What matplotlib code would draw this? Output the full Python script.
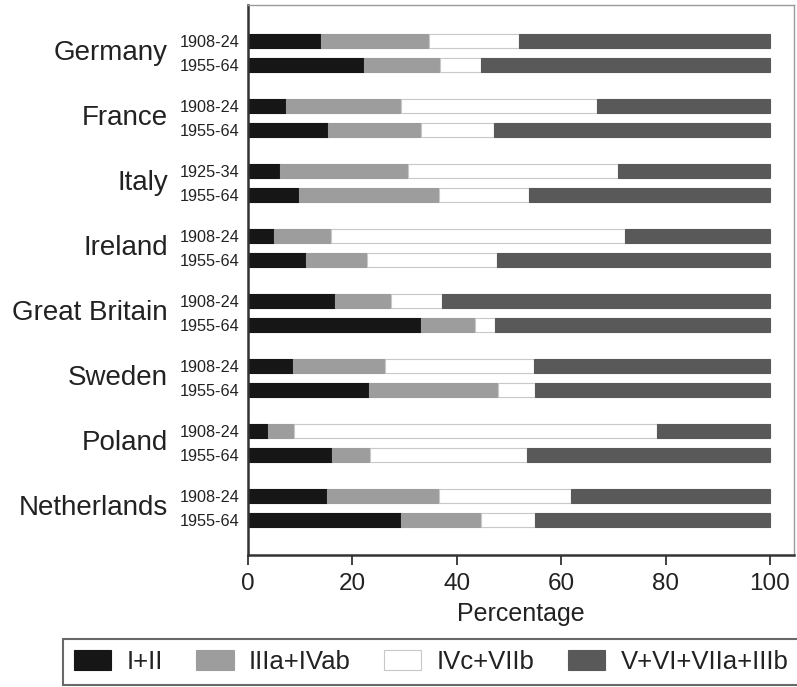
import numpy as np
import matplotlib
matplotlib.use("Agg")
import matplotlib.pyplot as plt
from matplotlib.patches import Patch

countries = ["Germany", "France", "Italy", "Ireland", "Great Britain",
             "Sweden", "Poland", "Netherlands"]
early_periods = ["1908-24", "1908-24", "1925-34", "1908-24", "1908-24",
                 "1908-24", "1908-24", "1908-24"]
late_period = "1955-64"

classes = ["I+II", "IIIa+IVab", "IVc+VIIb", "V+VI+VIIa+IIIb"]
colors = ["#161616", "#9d9d9d", "#ffffff", "#595959"]

# class shares (%) for the early cohort, one list per class
early_i_ii = [13.9, 7.3, 6.2, 5.0, 16.7, 8.6, 3.9, 15.1]
early_iii_iv = [20.7, 22.1, 24.5, 10.9, 10.6, 17.6, 5.0, 21.4]
early_ivc_vii = [17.4, 37.5, 40.2, 56.3, 9.8, 28.5, 69.5, 25.3]
early_v_vi = [48.0, 33.1, 29.1, 27.8, 62.9, 45.3, 21.6, 38.2]

# class shares (%) for the 1955-64 cohort
late_i_ii = [22.2, 15.3, 9.7, 11.2, 33.1, 23.1, 16.1, 29.4]
late_iii_iv = [14.6, 17.9, 26.8, 11.6, 10.3, 24.8, 7.3, 15.3]
late_ivc_vii = [7.8, 13.9, 17.3, 24.9, 4.0, 7.1, 30.1, 10.2]
late_v_vi = [55.4, 52.9, 46.2, 52.3, 52.6, 45.0, 46.5, 45.1]


def draw_stack(ax, ypos, shares):
    left = np.zeros(len(ypos))
    for vals, color in zip(shares, colors):
        edge = "#c8c8c8" if color == "#ffffff" else color
        ax.barh(ypos, vals, left=left, height=0.215, color=color,
                edgecolor=edge, linewidth=0.8)
        left = left + np.array(vals)


def main() -> None:
    plt.rcParams["font.family"] = ["Liberation Sans", "DejaVu Sans"]
    fig = plt.figure(figsize=(7.97, 6.87), dpi=100)
    W, H = 797, 687
    ax = fig.add_axes([248 / W, 1 - 555 / H, (794 - 248) / W, (555 - 5) / H])

    n = len(countries)
    y_early = np.arange(n, dtype=float)
    y_late = y_early + 0.37

    draw_stack(ax, y_early, [early_i_ii, early_iii_iv, early_ivc_vii, early_v_vi])
    draw_stack(ax, y_late, [late_i_ii, late_iii_iv, late_ivc_vii, late_v_vi])

    ax.set_xlim(0, 104.6)
    ax.set_ylim(n - 1 + 0.37 + 0.54, -0.55)

    ax.set_xticks([0, 20, 40, 60, 80, 100])
    ax.tick_params(axis="x", direction="out", length=7, width=1.3,
                   labelsize=17.5, colors="#333333", labelcolor="#222222", pad=6)
    ax.set_xlabel("Percentage", fontsize=18, color="#222222", labelpad=5)

    yt = np.concatenate([y_early, y_late])
    yl = early_periods + [late_period] * n
    ax.set_yticks(yt)
    ax.set_yticklabels(yl, fontsize=11.7, color="#222222")
    ax.tick_params(axis="y", length=0, pad=6)

    for y, name in zip(y_early + 0.185, countries):
        ax.annotate(name, xy=(0, y), xycoords=("axes fraction", "data"),
                    xytext=(-80, 0), textcoords="offset pixels",
                    ha="right", va="center", fontsize=20, color="#222222")

    for side in ("left", "bottom"):
        ax.spines[side].set_color("#333333")
        ax.spines[side].set_linewidth(1.8)
    for side in ("top", "right"):
        ax.spines[side].set_color("#9a9a9a")
        ax.spines[side].set_linewidth(1.0)

    handles = [Patch(facecolor=c, edgecolor="#c8c8c8" if c == "#ffffff" else c,
                     linewidth=0.8) for c in colors]
    leg = fig.legend(handles, classes, loc="upper left",
                     bbox_to_anchor=(63 / W, 1 - 639 / H), ncol=4,
                     fontsize=18.5, frameon=True, fancybox=False,
                     handlelength=1.45, handleheight=0.85, handletextpad=0.6,
                     columnspacing=1.3, borderpad=0.42, borderaxespad=0)
    leg.get_frame().set_edgecolor("#444444")
    leg.get_frame().set_linewidth(1.5)
    for t in leg.get_texts():
        t.set_color("#222222")

    fig.savefig("out.png", dpi=100)


if __name__ == "__main__":
    main()
